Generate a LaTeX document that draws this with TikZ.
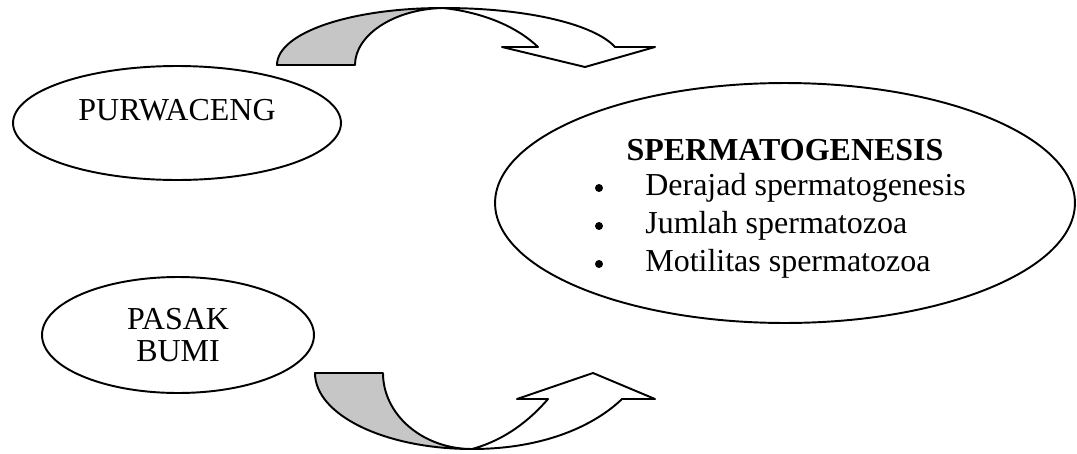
\documentclass[tikz,border=0pt]{standalone}
\usepackage{fontspec}
\setmainfont{Liberation Serif}
\usetikzlibrary{shapes.geometric}

\begin{document}
\begin{tikzpicture}[x=0.02cm, y=-0.02cm,
  bubble/.style={ellipse, draw, line width=1.1pt, inner sep=0pt},
  txt/.style={font=\fontsize{18.2}{18.2}\selectfont, inner sep=0pt},
  ribbon/.style={draw, line width=1.1pt, line join=round},
  backside/.style={ribbon, fill=gray!45},
  item/.style={txt, anchor=base west}
]
\useasboundingbox (0,0) rectangle (1077,453);

% the two herbs
\node[bubble, minimum width=6.56cm, minimum height=2.28cm] (purwaceng) at (177,123) {};
\node[txt] (purwacengtxt) at (177,110) {PURWACENG};
\node[bubble, txt, align=center, minimum width=5.44cm, minimum height=2.32cm] (pasakbumi) at (178,335) {PASAK\\BUMI};

% the outcome
\node[bubble, minimum width=11.6cm, minimum height=4.8cm] (spermato) at (785,203) {};
\node[txt, font=\fontsize{18.2}{18.2}\selectfont\bfseries] (title) at (785,150) {SPERMATOGENESIS};
\foreach \y/\t [count=\i] in {188/Derajad spermatogenesis, 226/Jumlah spermatozoa, 264/Motilitas spermatozoa} {
  \fill (599,\y) circle[radius=0.08cm];
  \node[item] (item\i) at (645,\y+7) {\t};
}

% upper curved arrow
\draw[backside] (277,65) .. controls (277,33) and (350,8) .. (443,8)
  .. controls (394,9) and (355,35) .. (355,65) -- cycle;
\draw[ribbon, fill=white] (443,8) .. controls (530,8) and (595,25) .. (615,47)
  -- (655,47) -- (585,67) -- (502,47) -- (538,47)
  .. controls (515,25) and (480,12) .. (443,8) -- cycle;

% lower curved arrow
\draw[backside] (315,373) .. controls (315,415) and (385,449) .. (472,449)
  .. controls (423,449) and (383,415) .. (383,373) -- cycle;
\draw[ribbon, fill=white] (472,449) .. controls (545,449) and (595,425) .. (622,399)
  -- (655,399) -- (593,373) -- (517,399) -- (548,399)
  .. controls (530,420) and (505,440) .. (472,449) -- cycle;
\end{tikzpicture}
\end{document}
